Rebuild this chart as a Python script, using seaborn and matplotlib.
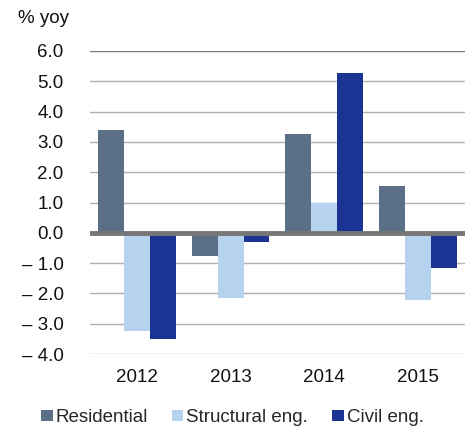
import matplotlib
matplotlib.use("Agg")
import matplotlib.pyplot as plt
import seaborn as sns
import pandas as pd

years = ["2012", "2013", "2014", "2015"]
series = ["Residential", "Structural eng.", "Civil eng."]
residential = [3.4, -0.75, 3.27, 1.55]
structural = [-3.23, -2.15, 0.97, -2.22]
civil = [-3.5, -0.3, 5.28, -1.17]
colors = ["#5B7087", "#B5D2EE", "#1B3494"]
yticks = [6.0, 5.0, 4.0, 3.0, 2.0, 1.0, 0.0, -1.0, -2.0, -3.0, -4.0]

rows = []
for name, vals in zip(series, [residential, structural, civil]):
    for y, v in zip(years, vals):
        rows.append({"year": y, "series": name, "value": v})
df = pd.DataFrame(rows)

sns.set_style("white")
plt.rcParams["font.family"] = ["Liberation Sans", "DejaVu Sans"]

FS = 13.5
fig = plt.figure(figsize=(4.71, 4.34), dpi=100)
ax = fig.add_axes([0.191, 0.1843, 0.796, 0.6982])

sns.barplot(data=df, x="year", y="value", hue="series", palette=colors,
            width=0.83, ax=ax, saturation=1, legend=True, errorbar=None,
            edgecolor="none")

ax.set_ylim(-4.0, 6.0)
ax.set_xlim(-0.5, 3.5)
ax.set_yticks(yticks)
ax.set_yticklabels([f"{t:.1f}" if t >= 0 else f"\u2013 {abs(t):.1f}" for t in yticks],
                   fontsize=FS, color="#111111")
ax.tick_params(axis="x", labelsize=FS, length=0, pad=11, colors="#111111")
ax.tick_params(axis="y", length=0, pad=19)
ax.set_xlabel("")
ax.set_ylabel("")
for s in ax.spines.values():
    s.set_visible(False)
ax.set_axisbelow(True)
for t in yticks:
    if t == 0:
        continue
    ax.axhline(t, color="#777777" if t == 6.0 else "#B0B0B0", lw=1.0, zorder=0)
ax.axhline(0, color="#777777", lw=3.5, zorder=5)

h, l = ax.get_legend_handles_labels()
ax.legend(h, l, loc="center", bbox_to_anchor=(0.38, -0.21), ncol=3, frameon=False,
          fontsize=FS, handlelength=0.6, handleheight=0.6, handletextpad=0.15,
          columnspacing=1.3, borderaxespad=0)

fig.text(0.038, 0.958, "% yoy", fontsize=FS, color="#111111", va="center")

fig.savefig("out.png", dpi=100)
